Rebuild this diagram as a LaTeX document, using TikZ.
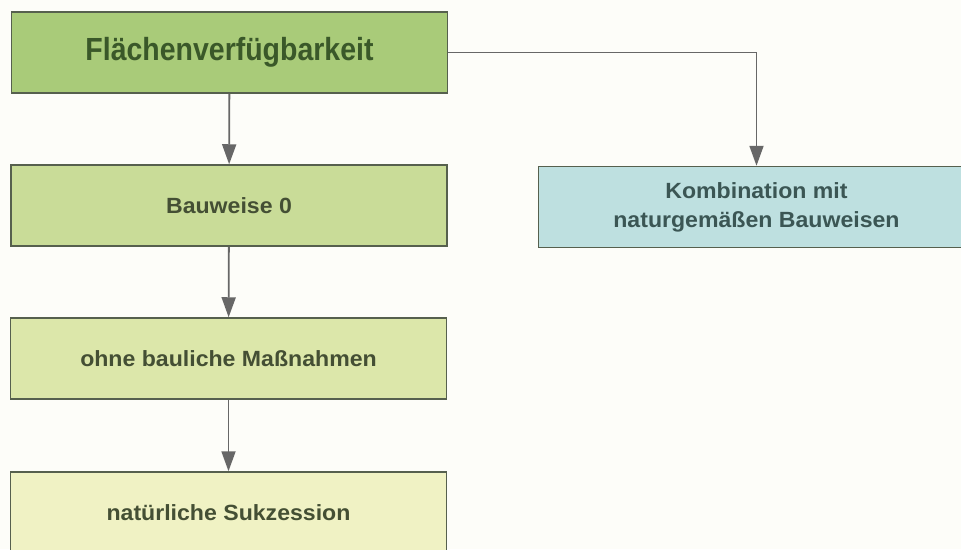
\documentclass[tikz,border=0pt]{standalone}
\usepackage{fontspec}
\newfontfamily\condT[FakeStretch=0.89]{Liberation Sans}
\newfontfamily\condB[FakeStretch=1.05]{Liberation Sans}
\usetikzlibrary{arrows.meta}
\definecolor{bgc}{HTML}{FDFDF9}
\definecolor{fa}{HTML}{A9CB79}
\definecolor{fb}{HTML}{C9DC98}
\definecolor{fc}{HTML}{DCE7AA}
\definecolor{fd}{HTML}{F0F2C4}
\definecolor{fe}{HTML}{BEE0E0}
\definecolor{bord}{HTML}{56604E}
\definecolor{tgreen}{HTML}{3A5829}
\definecolor{tgray}{HTML}{444F34}
\definecolor{tcyan}{HTML}{3B5654}
\definecolor{arr}{HTML}{676767}
\tikzset{
  box/.style={draw=bord, line width=1.5pt, rectangle, minimum width=436pt, minimum height=81pt, inner sep=0pt, align=center, font=\condB\bfseries\fontsize{22}{29}\selectfont, text=tgray},
  conn/.style={draw=arr, line width=1.8pt, -{Triangle[length=20pt,width=14pt]}}
}
\begin{document}
\begin{tikzpicture}[x=1pt,y=-1pt]
\useasboundingbox (0,0) rectangle (961,549);
\fill[bgc] (0,0) rectangle (961,549);
\clip (0,0) rectangle (961,549);
\node[box, fill=fa, text=tgreen, font=\condT\bfseries\fontsize{32}{36}\selectfont] (b1) at (229.5,52.5) {Flächenverfügbarkeit};
\node[box, fill=fb] (b2) at (229,205.5) {Bauweise 0};
\node[box, fill=fc] (b3) at (228.5,358.5) {ohne bauliche Maßnahmen};
\node[box, fill=fd] (b4) at (228.5,512.5) {natürliche Sukzession};
\node[box, fill=fe, text=tcyan] (b5) at (756.5,207) {Kombination mit\\naturgemäßen Bauweisen};
\draw[conn] (b1) -- (b2);
\draw[conn] (b2) -- (b3);
\draw[conn] (b3) -- (b4);
\draw[conn] (b1.east) -| (b5.north);
\end{tikzpicture}
\end{document}
